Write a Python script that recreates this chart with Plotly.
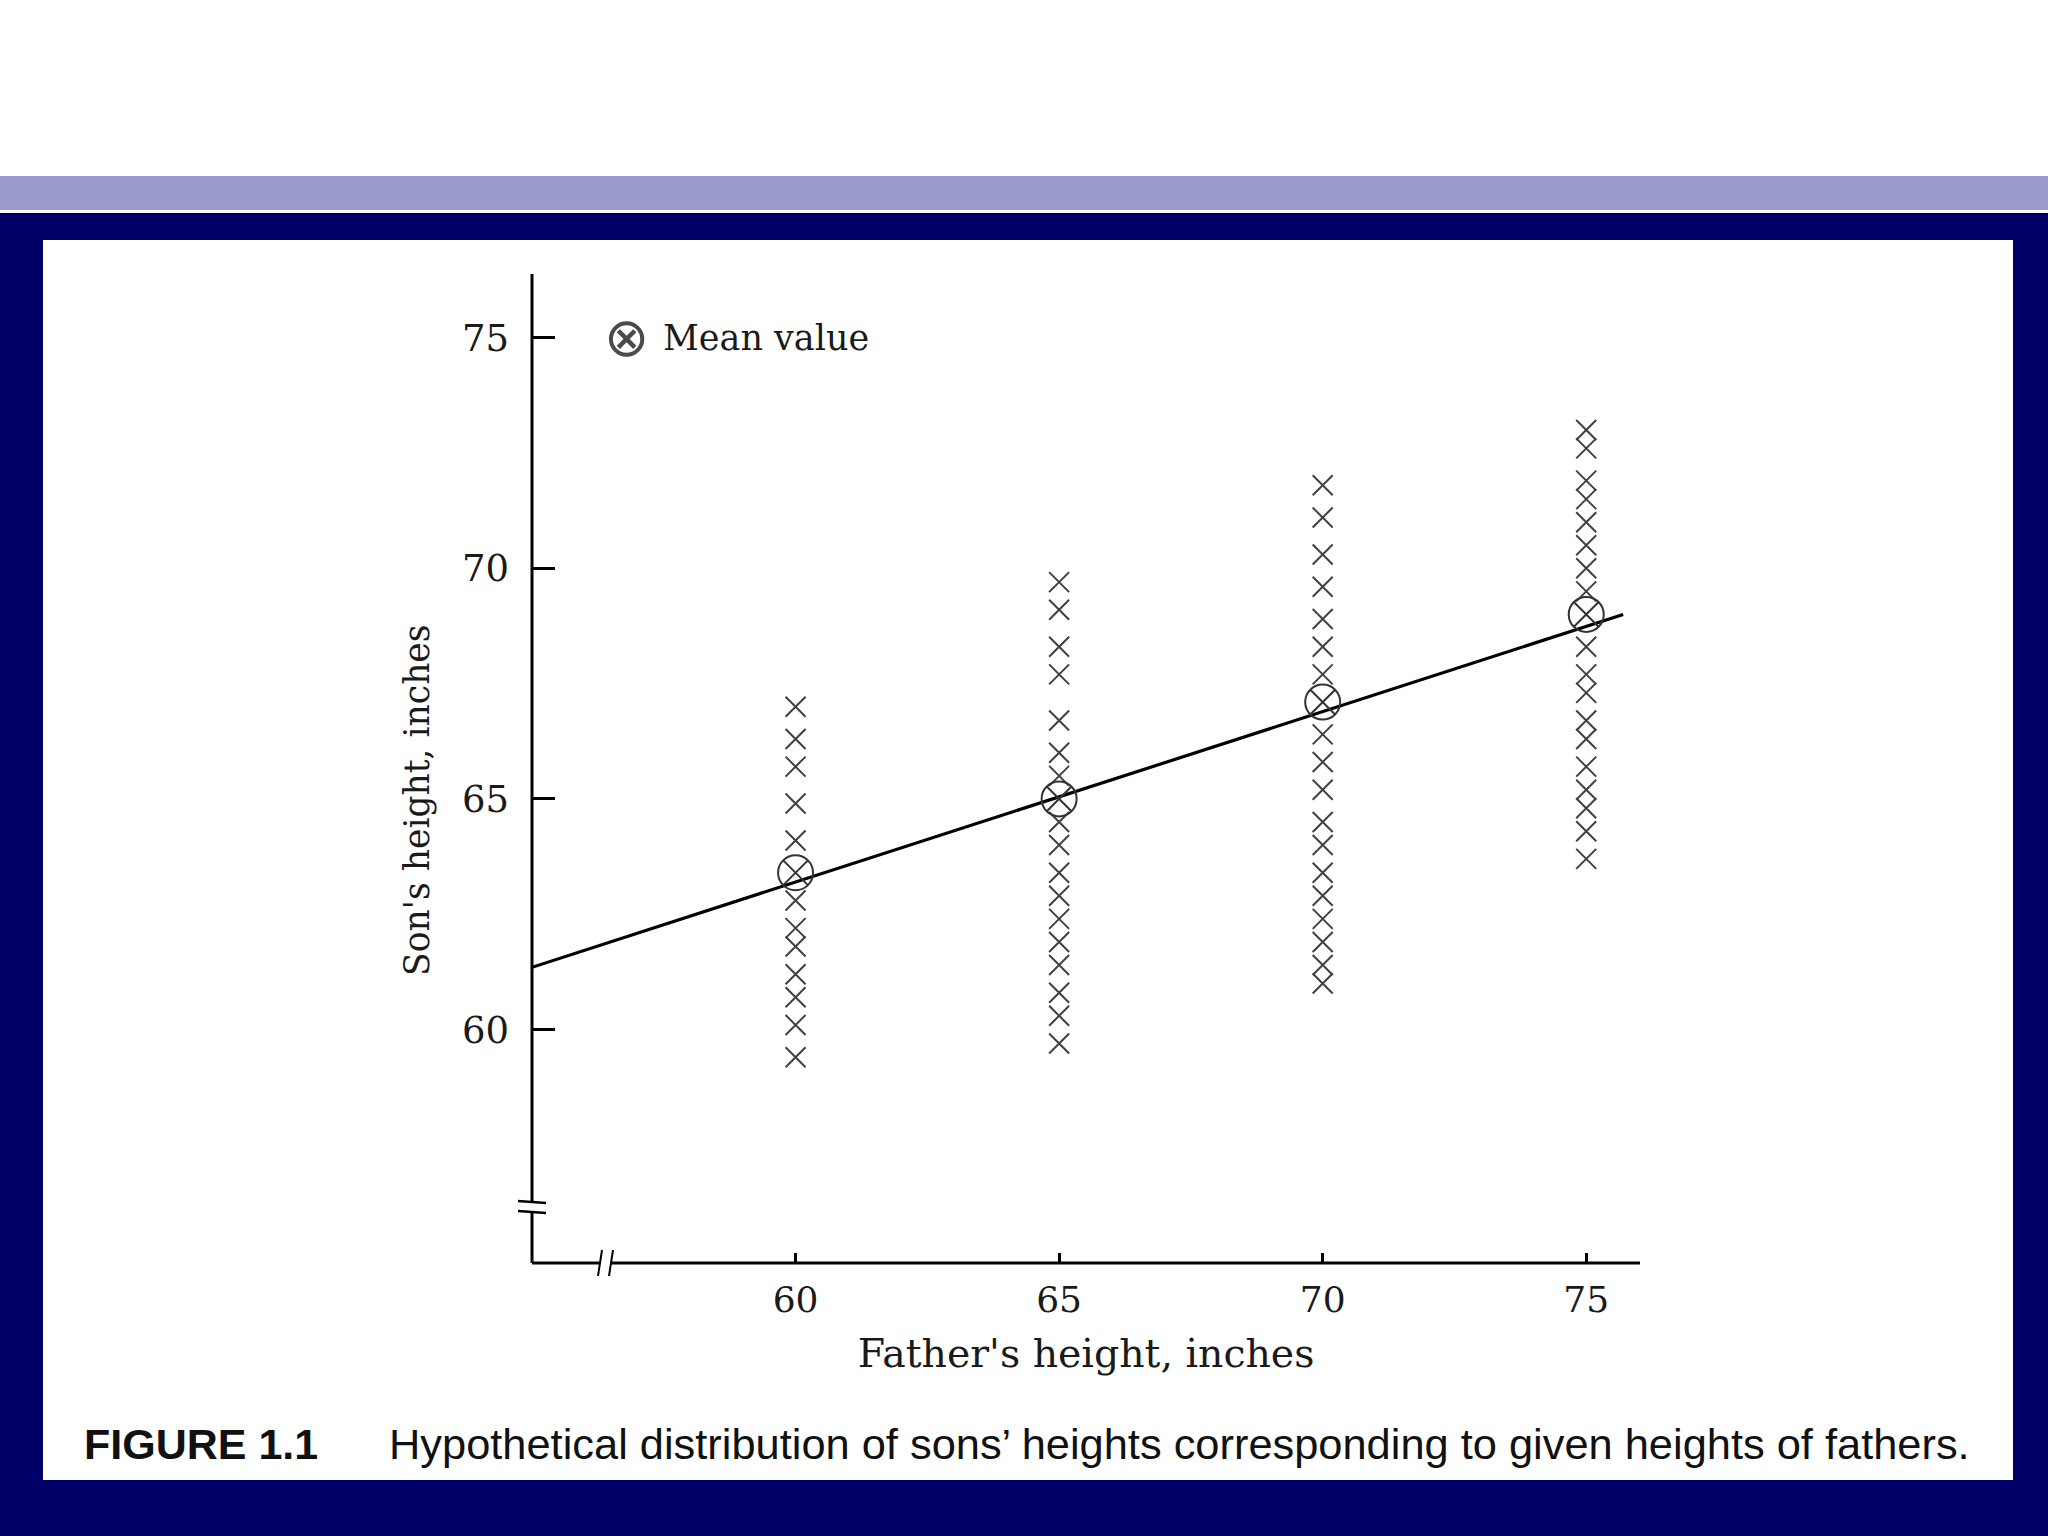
import plotly.graph_objects as go

# ---------------- data ----------------
fathers = [60, 65, 70, 75]
sons_60 = [67.0, 66.3, 65.7, 64.9, 64.1, 62.8, 62.2, 61.8, 61.2, 60.7, 60.1, 59.4]
sons_65 = [69.7, 69.1, 68.3, 67.7, 66.7, 66.0, 65.5, 64.5, 64.0, 63.4, 62.9, 62.4,
           61.9, 61.4, 60.8, 60.3, 59.7]
sons_70 = [71.8, 71.1, 70.3, 69.6, 68.9, 68.3, 67.7, 66.4, 65.8, 65.2, 64.5, 64.0,
           63.4, 62.9, 62.4, 61.9, 61.4, 61.0]
sons_75 = [73.0, 72.6, 71.9, 71.5, 71.0, 70.5, 70.0, 69.5, 68.3, 67.7, 67.3, 66.7,
           66.3, 65.7, 65.2, 64.8, 64.3, 63.7]
mean_values = [63.4, 65.0, 67.1, 69.0]
line_x = [55.0, 75.7]
line_y = [61.35, 69.0]
tick_vals = [60, 65, 70, 75]
tick_text = ["60", "65", "70", "75"]

x_title = "Father's height, inches"
y_title = "Son's height, inches"
legend_label = "Mean value"
caption_num = "FIGURE 1.1"
caption_text = "Hypothetical distribution of sons\u2019 heights corresponding to given heights of fathers."

# ---------------- layout geometry ----------------
W, H = 2048, 1536
L, R, T, B = 532, 1640, 274, 1263
NAVY = "#000068"
BAND = "#9999cc"
SERIF = "DejaVu Serif"
SANS = "Liberation Sans"
INK = "#1a1a1a"


def px(x):
    return (x - L) / (R - L)


def py(y):
    return (B - y) / (B - T)


scatter_x = []
scatter_y = []
for f, col in zip(fathers, [sons_60, sons_65, sons_70, sons_75]):
    scatter_x += [f] * len(col)
    scatter_y += col

fig = go.Figure()
fig.add_trace(go.Scatter(
    x=line_x, y=line_y, mode="lines",
    line=dict(color="black", width=3.2), showlegend=False, hoverinfo="skip"))
fig.add_trace(go.Scatter(
    x=scatter_x, y=scatter_y, mode="markers", name="Son's height",
    marker=dict(symbol="x-thin-open", size=20, color="#404040",
                line=dict(color="#404040", width=2)),
    showlegend=False))
fig.add_trace(go.Scatter(
    x=fathers, y=mean_values, mode="markers", name=legend_label,
    marker=dict(symbol="circle-x-open", size=35, color="#333333",
                line=dict(color="#333333", width=2)),
    showlegend=False))


def seg(x0, y0, x1, y1, w=3, color="black"):
    return dict(type="line", xref="paper", yref="paper",
                x0=px(x0), y0=py(y0), x1=px(x1), y1=py(y1),
                line=dict(color=color, width=w), layer="above")


def rect(x0, y0, x1, y1, color):
    return dict(type="rect", xref="paper", yref="paper",
                x0=px(x0), y0=py(y0), x1=px(x1), y1=py(y1),
                fillcolor=color, line=dict(width=0), layer="below")


shapes = [
    rect(0, 213, W, H, NAVY),
    rect(0, 176, W, 210, BAND),
    rect(43, 240, 2013, 1480, "white"),
    # y axis with break
    seg(L, 274, L, 1203),
    seg(L, 1212, L, B),
    seg(518, 1201, 546, 1203, w=2.5),
    seg(518, 1211, 546, 1213, w=2.5),
    # x axis with break
    seg(L, B, 600, B),
    seg(611, B, R, B),
    seg(602, 1250, 598, 1276, w=2),
    seg(613, 1250, 609, 1276, w=2),
]

annotations = [
    dict(text="\u2297", x=px(626), y=py(337), xref="paper", yref="paper",
         showarrow=False, xanchor="center", yanchor="middle",
         font=dict(family="DejaVu Sans", size=54, color="#4a4a4a")),
    dict(text=legend_label, x=px(661), y=py(338), xref="paper", yref="paper",
         showarrow=False, xanchor="left", yanchor="middle",
         font=dict(family=SERIF, size=35, color=INK)),
    dict(text=y_title, x=px(417), y=py(801), xref="paper", yref="paper",
         showarrow=False, xanchor="center", yanchor="middle", textangle=-90,
         font=dict(family=SERIF, size=34.5, color=INK)),
    dict(text="<b>" + caption_num + "</b>", x=px(82), y=py(1444), xref="paper", yref="paper",
         showarrow=False, xanchor="left", yanchor="middle",
         font=dict(family=SANS, size=43, color="#111111")),
    dict(text=caption_text, x=px(387), y=py(1444), xref="paper", yref="paper",
         showarrow=False, xanchor="left", yanchor="middle",
         font=dict(family=SANS, size=43.4, color="#111111")),
]

fig.update_layout(
    width=W, height=H,
    margin=dict(l=L, r=W - R, t=T, b=H - B, autoexpand=False),
    paper_bgcolor="white", plot_bgcolor="rgba(0,0,0,0)",
    shapes=shapes, annotations=annotations, showlegend=False,
    xaxis=dict(range=[55.0, 76.02], tickvals=tick_vals, ticktext=tick_text,
               ticks="inside", ticklen=10, tickwidth=2.5, tickcolor="black",
               showline=False, showgrid=False, zeroline=False,
               ticklabelstandoff=12,
               tickfont=dict(family=SERIF, size=36, color=INK),
               title=dict(text=x_title, standoff=20,
                          font=dict(family=SERIF, size=39.4, color=INK))),
    yaxis=dict(range=[54.94, 76.38], tickvals=tick_vals, ticktext=tick_text,
               ticks="inside", ticklen=23, tickwidth=2.5, tickcolor="black",
               showline=False, showgrid=False, zeroline=False,
               ticklabelstandoff=22,
               tickfont=dict(family=SERIF, size=37, color=INK)),
)

fig.write_html("out.html", config={"displayModeBar": False},
               post_script="document.body.style.margin='0';document.body.style.padding='0';")
